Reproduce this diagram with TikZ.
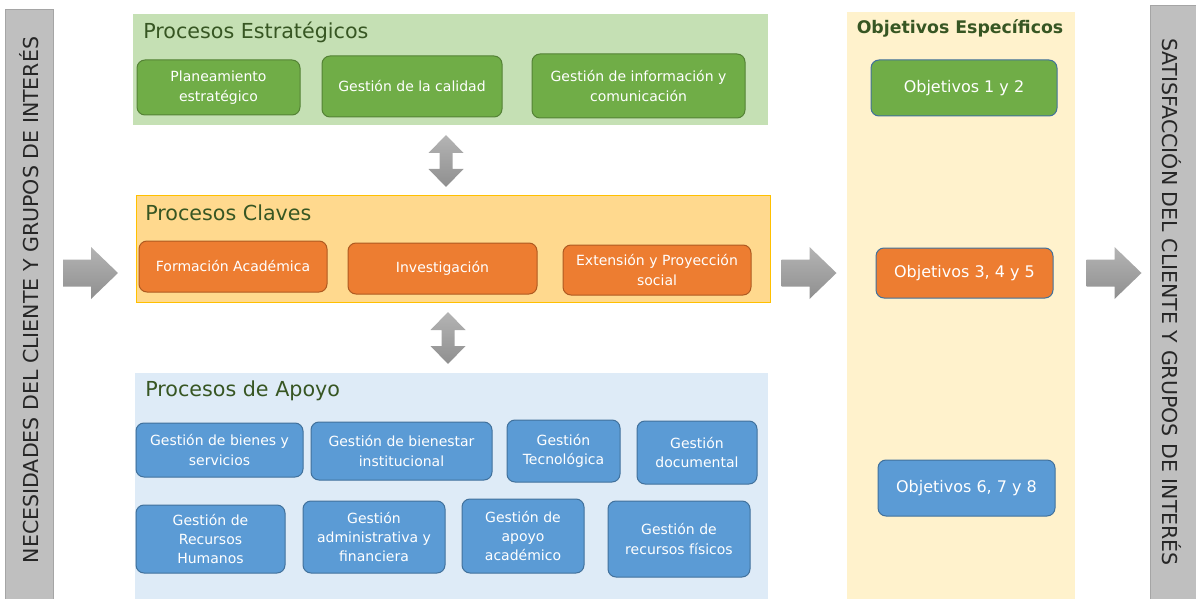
\documentclass[tikz,border=0pt]{standalone}
\usepackage{fontspec}
\setmainfont{DejaVu Sans}
\usetikzlibrary{positioning,fit}

\definecolor{barGray}{HTML}{BFBFBF}
\definecolor{barEdge}{HTML}{A5A5A5}
\definecolor{titleGreen}{HTML}{375623}
\definecolor{estrBg}{HTML}{C5E0B4}
\definecolor{clavBg}{HTML}{FFD98E}
\definecolor{clavEdge}{HTML}{FFC000}
\definecolor{apoyBg}{HTML}{DEEBF7}
\definecolor{objBg}{HTML}{FFF2CC}
\definecolor{green}{HTML}{70AD47}
\definecolor{greenEdge}{HTML}{548235}
\definecolor{orange}{HTML}{ED7D31}
\definecolor{orangeEdge}{HTML}{AE5A21}
\definecolor{blue}{HTML}{5B9BD5}
\definecolor{blueEdge}{HTML}{41719C}
\definecolor{arrowTop}{HTML}{B4B4B4}
\definecolor{arrowBot}{HTML}{8F8F8F}

\tikzset{
  span/.style n args={4}{
    minimum width={(#3-#1)*0.75pt}, minimum height={(#4-#2)*0.75pt},
    at={({(#1+#3)/2},{(#2+#4)/2})},
  },
  panel/.style={rectangle, draw=none, inner sep=0pt},
  sidebar/.style={rectangle, fill=barGray, draw=barEdge, line width=0.75pt,
    inner sep=0pt},
  sidetext/.style={inner sep=0pt, font=\fontsize{15.4}{17}\selectfont,
    text=black!85},
  paneltitle/.style={anchor=west, inner sep=0pt, text=titleGreen,
    font=\fontsize{15.5}{17}\selectfont},
  objtitle/.style={inner sep=0pt, text=titleGreen,
    font=\fontsize{13}{15}\selectfont\bfseries},
  procbox/.style={rectangle, rounded corners=6pt, line width=0.75pt,
    fill=#1, draw=#1Edge, inner sep=0pt, align=center, text=white,
    font=\fontsize{10.5}{14.5}\selectfont},
  objbox/.style={procbox=#1, draw=blueEdge,
    font=\fontsize{12}{14}\selectfont},
  arrowshade/.style={top color=arrowTop, bottom color=arrowBot, draw=none},
  rightarrow/.pic={
    \shade[arrowshade] (-27.5,-13.5) -- (0.5,-13.5) -- (0.5,-26) -- (27.5,0)
      -- (0.5,26) -- (0.5,13.5) -- (-27.5,13.5) -- cycle;
  },
  updownarrow/.pic={
    \shade[arrowshade] (0,-26) -- (17.5,-8) -- (6.5,-8) -- (6.5,8) -- (17.5,8)
      -- (0,26) -- (-17.5,8) -- (-6.5,8) -- (-6.5,-8) -- (-17.5,-8) -- cycle;
  },
}

\begin{document}
\begin{tikzpicture}[x=0.75pt, y=-0.75pt]
\clip (0,0) rectangle (1196,599);

% side bars
\node[sidebar, fit={(5,10) (53,610)}] (needsbar) {};
\node[sidetext, rotate=90] (needs) at (29,300)
  {NECESIDADES DEL CLIENTE Y GRUPOS DE INTERÉS};
\node[sidebar, fit={(1150,6) (1205,610)}] (satisbar) {};
\node[sidetext, rotate=-90] (satis) at (1172,302)
  {SATISFACCIÓN DEL CLIENTE Y GRUPOS DE INTERÉS};

% panels
\node[panel, fill=estrBg, fit={(133,14) (768,125)}] (estr) {};
\node[paneltitle] (estrT) at (143,32) {Procesos Estratégicos};
\node[panel, fill=clavBg, draw=clavEdge, line width=0.75pt,
      fit={(136,196) (770,302)}] (clav) {};
\node[paneltitle] (clavT) at (145,213) {Procesos Claves};
\node[panel, fill=apoyBg, fit={(135,373) (768,610)}] (apoy) {};
\node[paneltitle] (apoyT) at (145,391) {Procesos de Apoyo};
\node[panel, fill=objBg, fit={(847,12) (1075,610)}] (obj) {};
\node[objtitle] (objT) at (960,28) {Objetivos Específicos};

% estrategicos
\node[procbox=green, span={137}{60}{300}{115}] (plan) {Planeamiento\\estratégico};
\node[procbox=green, span={322}{56}{502}{117}] (cali) {Gestión de la calidad};
\node[procbox=green, span={532}{54}{745}{118}] (info)
  {Gestión de información y\\comunicación};

% claves
\node[procbox=orange, span={139}{241}{327}{292}] (form) {Formación Académica};
\node[procbox=orange, span={348}{243}{537}{294}] (inve) {Investigación};
\node[procbox=orange, span={563}{245}{751}{295}] (exte)
  {Extensión y Proyección\\social};

% apoyo
\node[procbox=blue, span={136}{423}{303}{477}] (bien) {Gestión de bienes y\\servicios};
\node[procbox=blue, span={311}{422}{492}{480}] (bienest)
  {Gestión de bienestar\\institucional};
\node[procbox=blue, span={507}{420}{620}{482}] (tecn) {Gestión\\Tecnológica};
\node[procbox=blue, span={637}{421}{757}{484}] (docu) {Gestión\\documental};
\node[procbox=blue, span={136}{505}{285}{573}] (rrhh)
  {Gestión de\\Recursos\\Humanos};
\node[procbox=blue, span={303}{501}{445}{573}] (admi)
  {Gestión\\administrativa y\\financiera};
\node[procbox=blue, span={462}{499}{584}{573}] (acad)
  {Gestión de\\apoyo\\académico};
\node[procbox=blue, span={608}{501}{750}{577}] (fisi)
  {Gestión de\\recursos físicos};

% objetivos
\node[objbox=green, span={871}{60}{1057}{116}] (obj1) {Objetivos 1 y 2};
\node[objbox=orange, span={876}{248}{1053}{298}] (obj2) {Objetivos 3, 4 y 5};
\node[objbox=blue, span={878}{460}{1055}{516}] (obj3) {Objetivos 6, 7 y 8};

% block arrows
\pic at (90.5,273) {rightarrow};
\pic at (809,273) {rightarrow};
\pic at (1114,273) {rightarrow};
\pic at (446,161) {updownarrow};
\pic at (448,338) {updownarrow};

\end{tikzpicture}
\end{document}
